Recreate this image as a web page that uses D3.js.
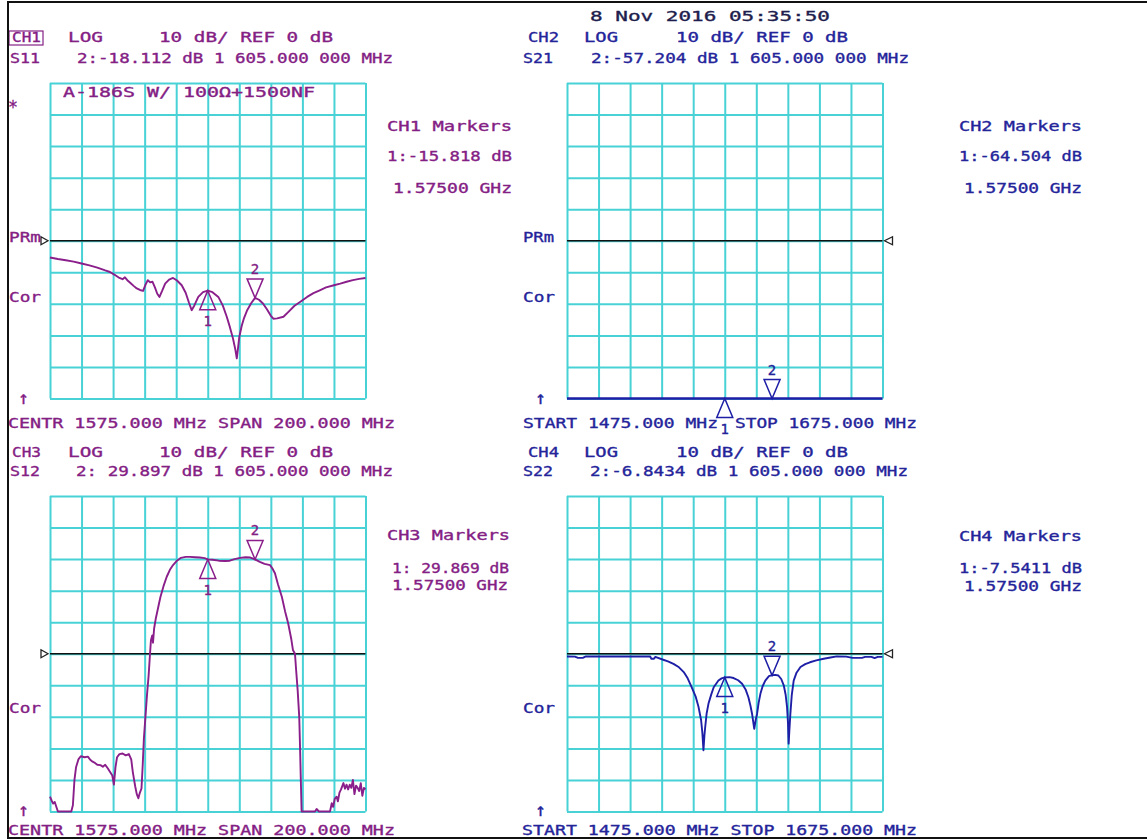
<!DOCTYPE html>
<html>
<head>
<meta charset="utf-8">
<script src="https://cdn.jsdelivr.net/npm/d3@7.9.0/dist/d3.min.js"></script>
<style>
  body { margin: 0; background: #fff; }
  svg { display: block; }
  text { font-family: "DejaVu Sans Mono", monospace; font-size: 14px; stroke-width: 0.35px; }
</style>
</head>
<body>
<svg width="1147" height="840"></svg>
<script>
// sweep + scale settings
const freqStart = 1475, freqStop = 1675;
const dbTop = 50, dbBottom = -50, refLevel = 0;
const freqTicks = d3.range(1475, 1676, 20);
const dbTicks = d3.range(-50, 51, 10);
const markerFreqs = [1575, 1605];

// CH1  S11
const ch1Freq = [1475, 1480, 1485, 1490, 1495, 1500, 1505, 1510, 1513, 1516, 1519, 1521, 1522.5, 1524, 1526, 1528, 1530, 1532, 1534, 1535.5, 1537, 1538.5, 1540, 1541.5, 1543, 1544.4, 1546, 1548, 1550.5, 1553, 1555.5, 1558.5, 1561, 1563, 1564.8, 1566.5, 1569, 1572, 1575, 1578, 1581.7, 1584.5, 1587, 1589, 1591, 1592.5, 1593.4, 1594.2, 1595, 1596.5, 1598, 1600, 1602.5, 1605, 1607.5, 1610, 1612.5, 1615, 1616.6, 1619, 1623, 1626, 1630, 1633.5, 1638, 1642, 1646, 1650, 1655, 1659, 1663, 1667, 1671, 1675];
const ch1Db = [-5.3, -5.8, -6.2, -6.6, -7.2, -7.8, -8.5, -9.4, -9.9, -10.8, -11.8, -12.2, -11.6, -12.5, -13.4, -14.3, -15.1, -15.6, -15.9, -14, -12.5, -13.2, -13, -14.8, -16.8, -17.8, -16, -13.6, -12.3, -11.8, -12.6, -14.1, -16.5, -19.5, -22, -20.5, -17.8, -16.3, -15.8, -16.3, -17.8, -20.5, -24, -27.3, -31, -34.5, -37.3, -34, -30.5, -27, -24.5, -22, -19.8, -18.1, -18.7, -19.9, -21.7, -23.8, -24.7, -24.6, -24.1, -22.6, -20.6, -19.4, -17.8, -16.6, -15.7, -14.8, -14.1, -13.6, -13, -12.5, -12.1, -11.8];
const ch1MarkerDb = [-15.818, -18.112];

// CH2  S21 (below the bottom of the screen)
const ch2Freq = [1475, 1495, 1515, 1535, 1555, 1575, 1595, 1605, 1615, 1635, 1655, 1675];
const ch2Db = [-58, -61, -57, -63, -66, -64.5, -59, -57.2, -60, -62, -61, -60];
const ch2MarkerDb = [-64.504, -57.204];

// CH3  S12
const ch3Freq = [1475, 1476, 1477, 1478, 1479, 1480, 1488.5, 1489.5, 1490.5, 1491.5, 1493, 1494.5, 1497, 1499, 1500.5, 1502, 1503.5, 1505, 1507, 1508.5, 1510, 1511.5, 1513, 1514.5, 1515.5, 1516.5, 1517.5, 1519, 1521, 1523, 1525, 1526.5, 1527.5, 1529, 1530, 1531, 1532, 1533, 1533.8, 1534.5, 1535.5, 1536.5, 1537.5, 1538.4, 1539, 1539.8, 1540.3, 1541, 1542, 1543.5, 1545, 1547, 1549, 1551, 1553, 1555.5, 1558, 1561, 1563.6, 1567, 1570, 1573, 1575, 1578, 1582, 1586, 1589, 1592, 1595.5, 1599, 1602, 1605, 1608, 1611, 1614.5, 1616, 1617.6, 1619.5, 1622, 1624, 1626, 1628, 1629, 1630.3, 1631, 1632, 1633, 1633.5, 1634, 1634.5, 1643, 1644, 1645.5, 1652.5, 1653.6, 1654.5, 1655.5, 1656.7, 1657.5, 1658.5, 1659.5, 1661, 1662, 1663, 1664, 1665, 1666, 1667, 1668, 1669, 1670, 1671, 1672, 1673, 1674, 1675];
const ch3Db = [-45.3, -46.5, -47.5, -47, -48.5, -50, -50, -48, -40, -36, -33.5, -32.5, -32.8, -32.6, -33.6, -34.2, -34.6, -35.2, -35.3, -35.8, -35.2, -36.2, -37.4, -38.6, -41.5, -36, -32.8, -31.8, -31.6, -32.2, -31.8, -33.5, -37.5, -42, -44.5, -45.8, -44, -42.7, -35, -27, -20, -13, -7, 0, 4.3, 5.8, 3.5, 8, 11, 14.5, 18, 21.5, 24.4, 26.6, 28.1, 29.5, 30.4, 30.7, 30.7, 30.6, 30.5, 30.3, 29.9, 29.8, 29.5, 29.4, 29.5, 30, 30.4, 30.6, 30.5, 29.9, 29.1, 28.5, 28.1, 27, 25.5, 22, 18, 13.5, 9.6, 4.5, 1.2, 0, -5, -11.6, -20, -29.5, -40, -50, -50, -49.2, -50, -50, -47.4, -48.5, -46, -45.3, -46.8, -44, -43, -41, -42.8, -41.5, -43, -41.5, -42.5, -40, -44.5, -41.8, -42.5, -43.5, -41, -45, -42.5, -43];
const ch3MarkerDb = [29.869, 29.897];

// CH4  S22
const ch4Freq = [1475, 1480, 1482, 1485, 1487, 1494, 1510, 1527.7, 1528.5, 1530, 1531, 1536, 1539, 1542.5, 1546, 1549, 1551.5, 1554, 1556.5, 1558.4, 1560, 1560.8, 1561.5, 1562.1, 1562.6, 1563.5, 1564.7, 1566.5, 1568, 1571, 1573, 1575, 1578, 1580.6, 1583.5, 1586, 1588.2, 1590, 1591.3, 1592.3, 1593.7, 1594.6, 1595.5, 1596.5, 1597.6, 1599, 1600.7, 1603, 1605, 1607, 1609, 1610.8, 1612.4, 1613.6, 1614.5, 1615.1, 1615.5, 1616, 1616.6, 1617.5, 1618.7, 1620.5, 1623, 1626, 1629, 1633, 1637.7, 1642, 1646, 1652, 1656, 1662, 1664, 1668, 1670, 1672, 1675];
const ch4Db = [-0.85, -0.9, -1.3, -1.3, -0.85, -0.85, -0.85, -0.85, -1.6, -1.6, -1, -1.9, -2.4, -3.2, -4.3, -5.8, -7.8, -10.6, -13.5, -16.9, -21, -25, -30.6, -26, -23.3, -19, -15.8, -12.8, -10.6, -8.5, -7.8, -7.5, -7.4, -7.7, -8.4, -9.5, -11.3, -13.8, -16.5, -19, -23.8, -21, -19, -15.5, -12.7, -10.3, -8.5, -7.1, -6.8, -6.7, -6.9, -8, -10, -13, -16.9, -22, -28.5, -24, -19, -13, -8.5, -6, -4.2, -3.3, -2.7, -2.1, -1.6, -1.2, -0.85, -0.9, -1.3, -1.3, -1, -1, -1.4, -1, -1];
const ch4MarkerDb = [-7.5411, -6.8434];

const PURPLE = '#842084';
const BLUE = '#24249a';
const GRID = '#48d2d6';
const SIZE = 315.5;

const svg = d3.select('svg');

function label(str, x, y, w, color, size) {
  const t = svg.append('text')
    .attr('x', x).attr('y', y)
    .attr('fill', color)
    .attr('stroke', color)
    .text(str);
  if (size) t.style('font-size', size + 'px');
  if (w) t.attr('textLength', w).attr('lengthAdjust', 'spacingAndGlyphs');
  return t;
}

const panels = [
  { x0: 50, y0: 83, freq: ch1Freq, db: ch1Db, mk: ch1MarkerDb, color: PURPLE, trace: '#8a1e8a', refSide: 'left' },
  { x0: 567, y0: 83, freq: ch2Freq, db: ch2Db, mk: ch2MarkerDb, color: BLUE, trace: '#1e1ea6', refSide: 'right', thick: true },
  { x0: 50, y0: 496, freq: ch3Freq, db: ch3Db, mk: ch3MarkerDb, color: PURPLE, trace: '#8a1e8a', refSide: 'left' },
  { x0: 567, y0: 496, freq: ch4Freq, db: ch4Db, mk: ch4MarkerDb, color: BLUE, trace: '#1e1ea6', refSide: 'right' }
];

panels.forEach(p => {
  const x = d3.scaleLinear().domain([freqStart, freqStop]).range([p.x0, p.x0 + SIZE]);
  const y = d3.scaleLinear().domain([dbBottom, dbTop]).range([p.y0 + SIZE, p.y0]).clamp(true);
  const g = svg.append('g');

  // graticule from the axes
  g.append('g')
    .attr('transform', `translate(0,${p.y0 + SIZE})`)
    .call(d3.axisBottom(x).tickValues(freqTicks).tickSize(-SIZE).tickFormat(''))
    .call(a => a.select('.domain').remove())
    .selectAll('line').attr('stroke', GRID).attr('stroke-width', 2);
  g.append('g')
    .attr('transform', `translate(${p.x0},0)`)
    .call(d3.axisLeft(y).tickValues(dbTicks).tickSize(-SIZE).tickFormat(''))
    .call(a => a.select('.domain').remove())
    .selectAll('line').attr('stroke', GRID).attr('stroke-width', 2);

  // reference line + its pointer
  const ry = y(refLevel);
  g.append('line')
    .attr('x1', x(freqStart)).attr('x2', x(freqStop))
    .attr('y1', ry).attr('y2', ry)
    .attr('stroke', '#111').attr('stroke-width', 1.6);
  if (p.refSide === 'left') {
    const rx = x(freqStart) - 9;
    g.append('path')
      .attr('d', `M${rx},${ry - 4}L${rx + 7},${ry}L${rx},${ry + 4}Z`)
      .attr('fill', '#fff').attr('stroke', '#222').attr('stroke-width', 1.3);
  } else {
    const rx = x(freqStop) + 2;
    g.append('path')
      .attr('d', `M${rx + 8},${ry - 4}L${rx},${ry}L${rx + 8},${ry + 4}Z`)
      .attr('fill', '#fff').attr('stroke', '#222').attr('stroke-width', 1.3);
  }

  // trace
  const pts = p.freq.map((f, i) => ({ f, v: p.db[i] }));
  g.append('path')
    .datum(pts)
    .attr('d', d3.line().x(d => x(d.f)).y(d => y(d.v)))
    .attr('fill', 'none')
    .attr('stroke', p.trace)
    .attr('stroke-width', p.thick ? 2.6 : 1.9)
    .attr('stroke-linejoin', 'round');

  // markers: 1 = open triangle under the trace, 2 (active) = inverted above it
  markerFreqs.forEach((f, i) => {
    const mx = x(f), my = y(p.mk[i]);
    const h = 19, hw = 8;
    if (i === 0) {
      g.append('path')
        .attr('d', `M${mx},${my}L${mx - hw},${my + h}L${mx + hw},${my + h}Z`)
        .attr('fill', 'none').attr('stroke', p.trace).attr('stroke-width', 1.5);
      g.append('text').attr('x', mx).attr('y', my + 35).attr('text-anchor', 'middle')
        .attr('fill', p.color).attr('stroke', p.color).text('1');
    } else {
      g.append('path')
        .attr('d', `M${mx},${my}L${mx - hw},${my - h}L${mx + hw},${my - h}Z`)
        .attr('fill', 'none').attr('stroke', p.trace).attr('stroke-width', 1.5);
      g.append('text').attr('x', mx).attr('y', my - 24).attr('text-anchor', 'middle')
        .attr('fill', p.color).attr('stroke', p.color).text('2');
    }
  });
});

const fmt = v => (v < 0 ? String(v) : ' ' + v);
const ghz = (markerFreqs[0] / 1000).toFixed(5) + ' GHz';
const f2 = '1 605.000 000 MHz';

// date line
label('8 Nov 2016  05:35:50', 590, 21, 240, '#1e1e4e');

// CH1
svg.append('rect').attr('x', 9).attr('y', 31).attr('width', 34).attr('height', 14)
  .attr('fill', 'none').attr('stroke', PURPLE).attr('stroke-width', 1.2);
label('CH1', 12, 42, 29, PURPLE);
label('LOG', 68, 42, 35, PURPLE);
label('10 dB/ REF 0 dB', 159, 42, 174, PURPLE);
label('S11', 10, 63, 30, PURPLE);
label(`2:${fmt(ch1MarkerDb[1])} dB ${f2}`, 77, 63, 316, PURPLE);
label('A-186S W/ 100Ω+1500NF', 63, 97, 252, PURPLE);
label('*', 8, 113, 10, PURPLE, 18);
label('CH1 Markers', 387, 131, 125, PURPLE);
label(`1:${fmt(ch1MarkerDb[0])} dB`, 387, 161, 125, PURPLE);
label(ghz, 393, 193, 119, PURPLE);
label('PRm', 9, 242, 32, PURPLE);
label('Cor', 9, 302, 32, PURPLE);
label('↑', 18, 404, 11, PURPLE, 18);
label('CENTR 1575.000 MHz  SPAN 200.000 MHz', 8, 428, 387, PURPLE);

// CH2
label('CH2', 528, 42, 31, BLUE);
label('LOG', 584, 42, 34, BLUE);
label('10 dB/ REF 0 dB', 676, 42, 172, BLUE);
label('S21', 523, 63, 30, BLUE);
label(`2:${fmt(ch2MarkerDb[1])} dB ${f2}`, 591, 63, 318, BLUE);
label('CH2 Markers', 959, 131, 123, BLUE);
label(`1:${fmt(ch2MarkerDb[0])} dB`, 959, 161, 123, BLUE);
label(ghz, 964, 193, 118, BLUE);
label('PRm', 523, 242, 31, BLUE);
label('Cor', 523, 302, 32, BLUE);
label('↑', 535, 404, 11, BLUE, 18);
label('START 1475.000 MHz', 523, 428, 195, BLUE);
label('STOP 1675.000 MHz', 735, 428, 182, BLUE);

// CH3
label('CH3', 12, 457, 29, PURPLE);
label('LOG', 68, 457, 35, PURPLE);
label('10 dB/ REF 0 dB', 159, 457, 174, PURPLE);
label('S12', 10, 476, 30, PURPLE);
label(`2:${fmt(ch3MarkerDb[1])} dB  ${f2}`, 76, 476, 317, PURPLE);
label('CH3 Markers', 387, 540, 123, PURPLE);
label(`1:${fmt(ch3MarkerDb[0])} dB`, 392, 573, 117, PURPLE);
label(ghz, 392, 590, 116, PURPLE);
label('Cor', 9, 713, 32, PURPLE);
label('↑', 18, 816, 11, PURPLE, 18);
label('CENTR 1575.000 MHz  SPAN 200.000 MHz', 8, 835, 387, PURPLE);

// CH4
label('CH4', 528, 457, 31, BLUE);
label('LOG', 584, 457, 34, BLUE);
label('10 dB/ REF 0 dB', 676, 457, 172, BLUE);
label('S22', 523, 476, 30, BLUE);
label(`2:${fmt(ch4MarkerDb[1])} dB ${f2}`, 590, 476, 318, BLUE);
label('CH4 Markers', 959, 541, 123, BLUE);
label(`1:${fmt(ch4MarkerDb[0])} dB`, 959, 573, 123, BLUE);
label(ghz, 964, 591, 118, BLUE);
label('Cor', 523, 713, 32, BLUE);
label('↑', 535, 816, 11, BLUE, 18);
label('START 1475.000 MHz  STOP 1675.000 MHz', 522, 835, 395, BLUE);

// frame
svg.append('path').attr('d', 'M1147,2H8V838H1147').attr('fill', 'none').attr('stroke', '#111').attr('stroke-width', 2);
</script>
</body>
</html>
